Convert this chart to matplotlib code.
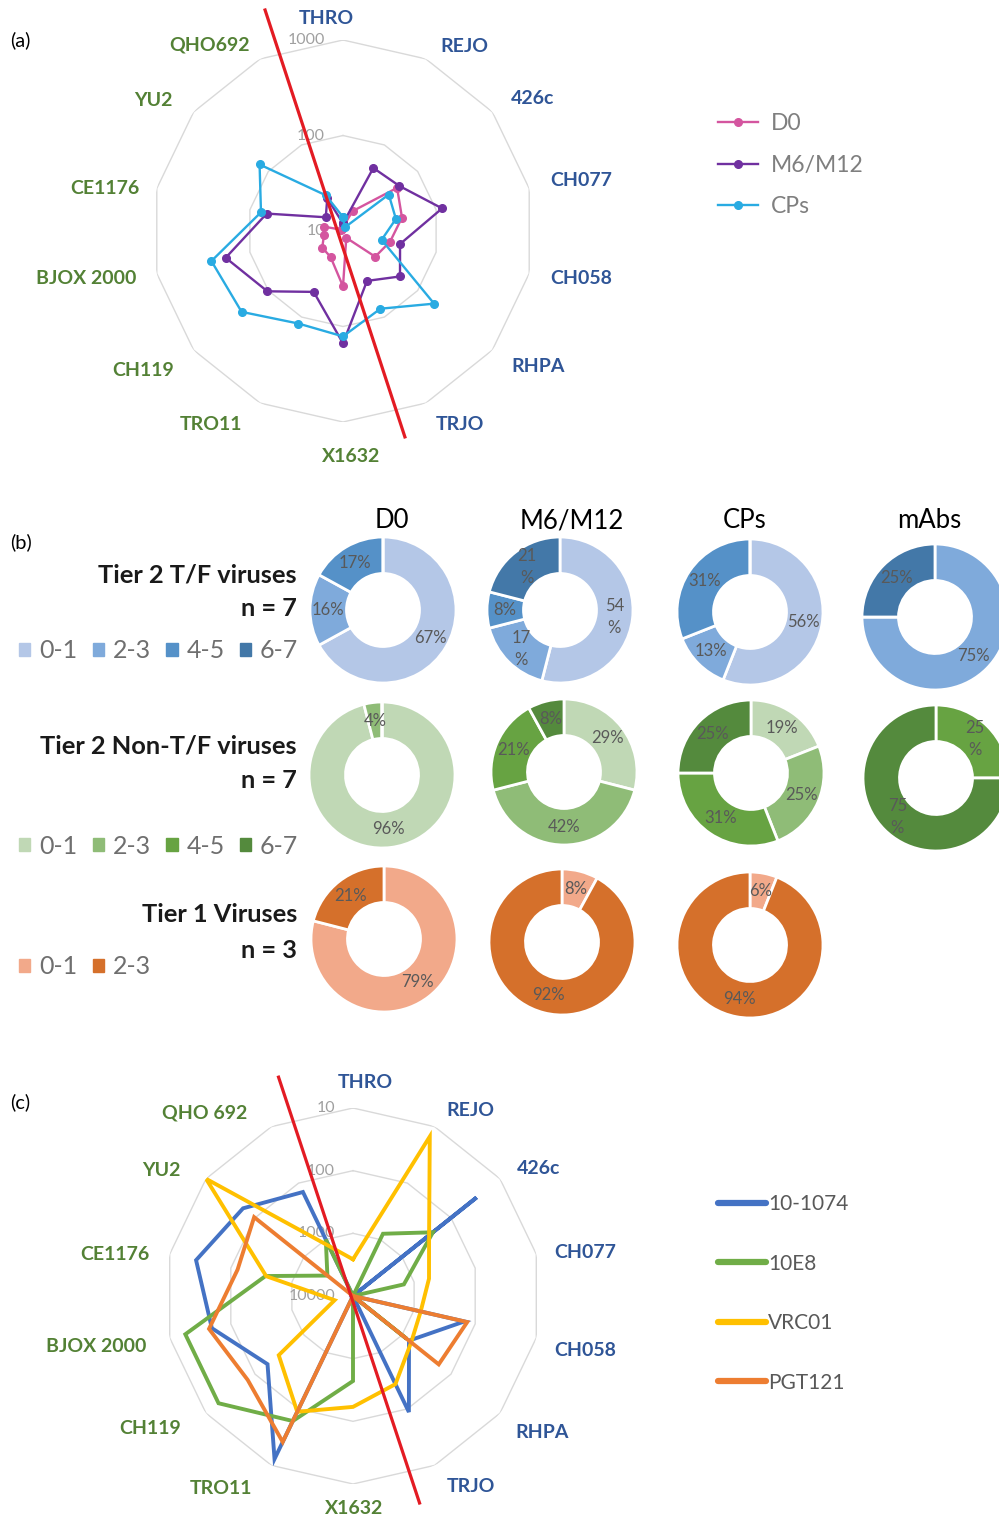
import numpy as np
import matplotlib.pyplot as plt
from matplotlib.lines import Line2D
from matplotlib.patches import Patch

plt.rcParams['font.family'] = ['Lato', 'DejaVu Sans']

# -----------------------
# DATA
# -----------------------
# panel (a): neutralisation titres per virus (log axis 10-1000)
VIRUSES_A = ["THRO", "REJO", "426c", "CH077", "CH058", "RHPA", "TRJO",
             "X1632", "TRO11", "CH119", "BJOX 2000", "CE1176", "YU2", "QHO692"]
N_TF = 7  # first seven viruses are T/F (blue labels)
D0 = [11, 17, 53, 43, 32, 27, 12, 38, 20, 19, 16, 16, 10.5, 10.5]
M6_M12 = [12, 54, 57, 116, 41, 58, 38, 150, 51, 103, 182, 66, 17, 24]
CPS = [14, 11, 41, 37, 26, 166, 80, 127, 119, 228, 259, 76, 131, 26]

# panel (b): share of samples per breadth group
DONUT_COLS = ["D0", "M6/M12", "CPs", "mAbs"]
GROUPS_4 = ["0-1", "2-3", "4-5", "6-7"]
GROUPS_2 = ["0-1", "2-3"]
TF_PCT = [[67, 16, 17, 0], [54, 17, 8, 21], [56, 13, 31, 0], [0, 75, 0, 25]]
NONTF_PCT = [[96, 4, 0, 0], [29, 42, 21, 8], [19, 25, 31, 25], [0, 0, 25, 75]]
TIER1_PCT = [[79, 21], [8, 92], [6, 94]]

# panel (c): mAb IC50 per virus (reversed log axis 10000-10)
VIRUSES_C = ["THRO", "REJO", "426c", "CH077", "CH058", "RHPA", "TRJO",
             "X1632", "TRO11", "CH119", "BJOX 2000", "CE1176", "YU2", "QHO 692"]
MAB_NAMES = ["10-1074", "10E8", "VRC01", "PGT121"]
MAB_10_1074 = [10000, 10000, 30, 10000, 150, 720, 88, 10000, 13, 180, 49, 27, 57, 144]
MAB_10E8 = [10000, 790, 234, 1470, 10000, 800, 10000, 440, 61, 18, 18, 370, 3000, 1000]
MAB_VRC01 = [2600, 15, 280, 570, 780, 650, 275, 170, 89, 305, 5000, 380, 10, 1300]
MAB_PGT121 = [10000, 10000, 10000, 10000, 135, 178, 10000, 10000, 26, 71, 44, 129, 96, 10000]

# -----------------------
# STYLE / LAYOUT
# -----------------------
W, H = 999, 1518
BLUE_TXT = '#2F5597'
GREEN_TXT = '#538135'
GRID = '#d9d9d9'
RED = '#E31B23'
A_COLORS = ['#D4559F', '#7030A0', '#29ABE2']
C_COLORS = ['#4472C4', '#70AD47', '#FFC000', '#ED7D31']
BLUES = ['#B4C7E7', '#7FAADB', '#5591C8', '#4378A8']
GREENS = ['#C0D8B5', '#8FBC77', '#67A342', '#548A3D']
ORANGES = ['#F2A98A', '#D5702B']

# label anchor pixels (x, y) for the radar category labels
LABEL_POS_A = [(326, 18), (464, 46), (533, 98), (581, 181), (581, 279), (538, 367),
               (460, 425), (351, 457), (211, 424), (143, 370), (86, 278), (105, 188),
               (153, 101), (210, 45)]
LABEL_POS_C = [(365, 1083), (470, 1110), (539, 1169), (585, 1253), (585, 1351),
               (542, 1433), (471, 1487), (354, 1508), (221, 1488), (150, 1428),
               (96, 1346), (115, 1254), (161, 1170), (205, 1113)]

fig = plt.figure(figsize=(W / 100, H / 100), dpi=100)


def fx(x):
    return x / W


def fy(y):
    return 1 - y / H


def box(cx, cy, r):
    return [fx(cx - r), fy(cy + r), 2 * r / W, 2 * r / H]


def closed(v):
    return list(v) + [v[0]]


def radar(cx, cy, r, lim, rings, ring_labels):
    n = len(VIRUSES_A)
    theta = np.linspace(0, 2 * np.pi, n, endpoint=False)
    ax = fig.add_axes(box(cx, cy, r), projection='polar')
    ax.set_theta_zero_location('N')
    ax.set_theta_direction(-1)
    ax.set_rscale('log')
    ax.set_ylim(*lim)
    ax.grid(False)
    ax.set_xticks([])
    ax.set_yticks([])
    ax.set_yticks([], minor=True)
    ax.spines['polar'].set_visible(False)
    ax.patch.set_visible(False)
    for g in rings:
        ax.plot(closed(theta), [g] * (n + 1), color=GRID, lw=1.0, zorder=1)
    for g in ring_labels:
        ax.annotate(str(g), xy=(0, g), xytext=(-13, 0), textcoords='offset points',
                    ha='right', va='center', color='#a0a0a0', fontsize=11.5)
    return ax, theta


def category_labels(names, positions):
    for i, (name, (x, y)) in enumerate(zip(names, positions)):
        fig.text(fx(x), fy(y), name, ha='center', va='center', fontsize=14,
                 fontweight='bold', color=BLUE_TXT if i < N_TF else GREEN_TXT)


def red_divider(ax, p0, p1):
    ax.add_line(Line2D([p0[0], p1[0]], [p0[1], p1[1]], transform=ax.transAxes,
                       color=RED, lw=2.3, clip_on=False, zorder=10))


# -----------------------
# PANEL (a)
# -----------------------
fig.text(fx(10), fy(40), "(a)", fontsize=14.5, va='center')
ax_a, th = radar(343, 231, 191, (10, 1000), [100, 1000], [1000, 100, 10])
a_handles = []
for name, vals, col in zip(["D0", "M6/M12", "CPs"], [D0, M6_M12, CPS], A_COLORS):
    ln, = ax_a.plot(closed(th), closed(vals), color=col, lw=1.7, marker='o',
                    ms=5.5, label=name, zorder=3)
    a_handles.append(ln)
red_divider(ax_a, (0.296, 1.0785), (0.662, -0.039))
category_labels(VIRUSES_A, LABEL_POS_A)
fig.legend(handles=a_handles, loc='upper left', bbox_to_anchor=(fx(718), fy(113)),
           frameon=False, fontsize=16.5, labelcolor='#7f7f7f', handlelength=1.75,
           handletextpad=0.55, labelspacing=0.9, borderpad=0, borderaxespad=0)

# -----------------------
# PANEL (b)
# -----------------------
fig.text(fx(10), fy(542), "(b)", fontsize=14.5, va='center')
for x, name in zip([392, 572, 745, 929], DONUT_COLS):
    fig.text(fx(x), fy(521), name, ha='center', va='center', fontsize=18.5)

R_D = 73
CENTERS = [[(383, 610), (560, 610), (750, 612), (935, 617)],
           [(382, 775), (564, 772), (751, 773), (936, 778)],
           [(384, 939), (562, 942), (750, 945)]]
WRAP = {(0, 1, 0), (0, 1, 1), (0, 1, 3), (1, 3, 2), (1, 3, 3)}


def donut(row, col, vals, colors):
    cx, cy = CENTERS[row][col]
    ax = fig.add_axes(box(cx, cy, R_D))
    wedges, _ = ax.pie(vals, colors=colors, startangle=90, counterclock=False,
                       wedgeprops=dict(width=0.5, edgecolor='white', linewidth=2))
    ax.set_xlim(-1, 1)
    ax.set_ylim(-1, 1)
    for i, (w, v) in enumerate(zip(wedges, vals)):
        if v == 0:
            continue
        a = np.deg2rad((w.theta1 + w.theta2) / 2)
        txt = f"{v}\n%" if (row, col, i) in WRAP else f"{v}%"
        ax.text(0.75 * np.cos(a), 0.75 * np.sin(a), txt, ha='center', va='center',
                fontsize=12, color='#595959', linespacing=1.45)


for row, (data, cols) in enumerate([(TF_PCT, BLUES), (NONTF_PCT, GREENS), (TIER1_PCT, ORANGES)]):
    for col, vals in enumerate(data):
        donut(row, col, vals, cols)

TITLES = [("Tier 2 T/F viruses", 575, 609), ("Tier 2 Non-T/F viruses", 746, 780),
          ("Tier 1 Viruses", 915, 950)]
for (title, y1, y2), n in zip(TITLES, [7, 7, 3]):
    fig.text(fx(297), fy(y1), title, ha='right', va='center', fontsize=18.3,
             fontweight='bold', color='#1a1a1a')
    fig.text(fx(297), fy(y2), f"n = {n}", ha='right', va='center', fontsize=18.3,
             fontweight='bold', color='#1a1a1a')

legend_kw = dict(frameon=False, fontsize=18, labelcolor='#6f6f6f', handlelength=0.45,
                 handleheight=0.45, handletextpad=0.35, columnspacing=0.62,
                 borderpad=0, borderaxespad=0)
fig.legend([Patch(color=c) for c in BLUES], GROUPS_4, ncol=4, loc='center left',
           bbox_to_anchor=(fx(19), fy(651)), **legend_kw)
fig.legend([Patch(color=c) for c in GREENS], GROUPS_4, ncol=4, loc='center left',
           bbox_to_anchor=(fx(19), fy(846)), **legend_kw)
fig.legend([Patch(color=c) for c in ORANGES], GROUPS_2, ncol=2, loc='center left',
           bbox_to_anchor=(fx(19), fy(967)), **legend_kw)

# -----------------------
# PANEL (c)
# -----------------------
fig.text(fx(10), fy(1102), "(c)", fontsize=14.5, va='center')
ax_c, th = radar(353, 1296, 188, (10000, 10), [1000, 100, 10], [10, 100, 1000, 10000])
c_handles = []
for name, vals, col in zip(MAB_NAMES, [MAB_10_1074, MAB_10E8, MAB_VRC01, MAB_PGT121], C_COLORS):
    ln, = ax_c.plot(closed(th), closed(vals), color=col, lw=2.8, label=name,
                    solid_joinstyle='miter', zorder=3)
    c_handles.append(ln)
red_divider(ax_c, (0.302, 1.082), (0.677, -0.0505))
category_labels(VIRUSES_C, LABEL_POS_C)
fig.legend(handles=[Line2D([], [], color=h.get_color(), lw=4.5, solid_capstyle='round')
                    for h in c_handles], labels=MAB_NAMES, loc='upper left',
           bbox_to_anchor=(fx(718), fy(1194)), frameon=False, fontsize=15,
           labelcolor='#595959', handlelength=2.3, handletextpad=0.12,
           labelspacing=1.9, borderpad=0, borderaxespad=0)

fig.savefig("out.png", dpi=100)
